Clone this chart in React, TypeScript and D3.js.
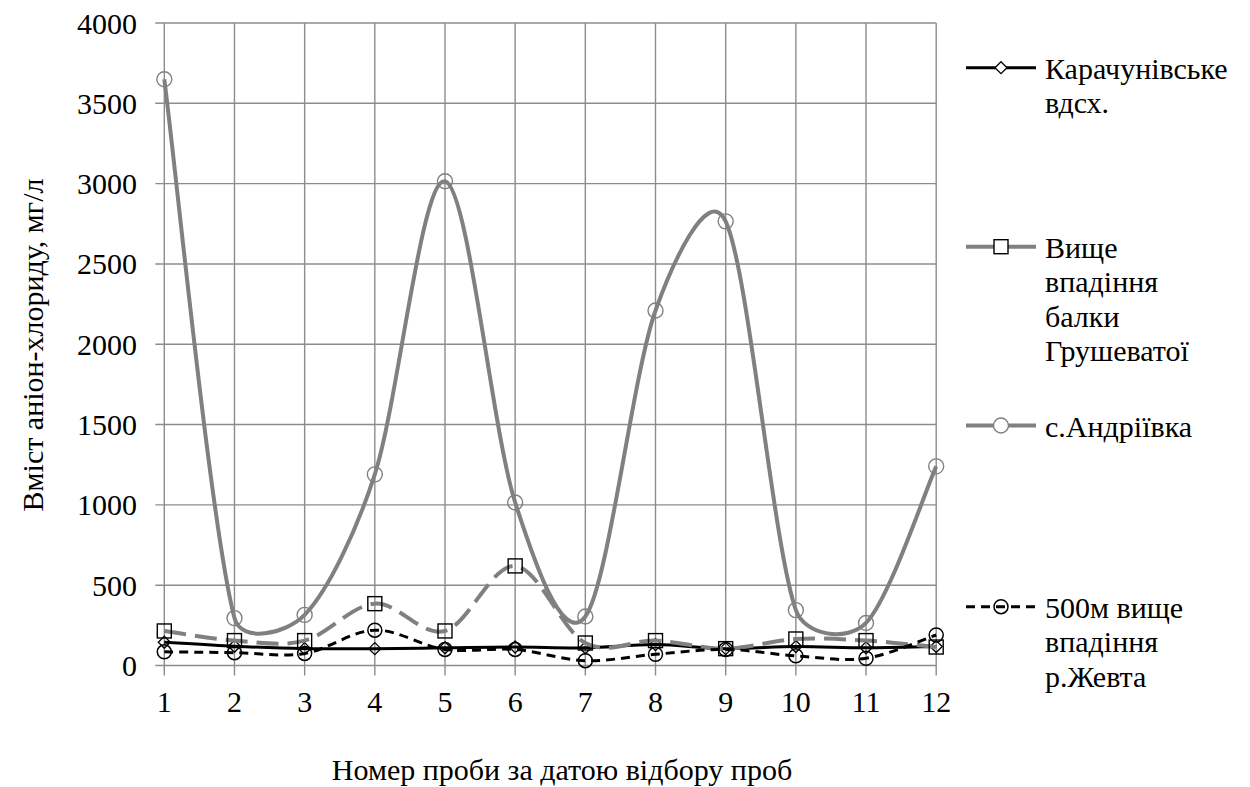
import React from 'react';
import * as d3 from 'd3';

// sample numbers 1..12
const samples = [1, 2, 3, 4, 5, 6, 7, 8, 9, 10, 11, 12];
const yTicks = [0, 500, 1000, 1500, 2000, 2500, 3000, 3500, 4000];

// chloride content, mg/l
const karachun = [145, 120, 105, 105, 110, 115, 110, 130, 105, 118, 110, 118];
const vyshche = [215, 155, 155, 385, 215, 620, 140, 155, 105, 165, 155, 115];
const andriivka = [3650, 295, 315, 1190, 3015, 1015, 305, 2210, 2765, 345, 265, 1240];
const zhevta = [85, 80, 75, 220, 100, 100, 30, 70, 100, 60, 45, 190];

const seriesNames = [
  ['Карачунівське', 'вдсх.'],
  ['Вище', 'впадіння', 'балки', 'Грушеватої'],
  ['с.Андріївка'],
  ['500м вище', 'впадіння', 'р.Жевта'],
];

const W = 1250;
const H = 787;
const FONT = 'Liberation Serif, DejaVu Serif, serif';
const GRID = '#8c8c8c';
const GREY = '#808080';

const x = d3.scalePoint<number>().domain(samples).range([164.3, 936.2]);
const y = d3.scaleLinear().domain([0, 4000]).range([665.5, 23]);

// smoothing roughly like Excel's: catmull-rom tangents, clipped to a share of the segment
function smoothPath(pts: [number, number][], k = 0.38) {
  const p = d3.path();
  p.moveTo(pts[0][0], pts[0][1]);
  for (let i = 0; i < pts.length - 1; i++) {
    const p0 = pts[i - 1] ?? pts[i];
    const p1 = pts[i];
    const p2 = pts[i + 1];
    const p3 = pts[i + 2] ?? pts[i + 1];
    const seg = Math.hypot(p2[0] - p1[0], p2[1] - p1[1]);
    const tan = (dx: number, dy: number) => {
      const l = Math.hypot(dx, dy) / 6;
      const s = l > seg * k ? (seg * k) / l : 1;
      return [(dx / 6) * s, (dy / 6) * s];
    };
    const a = tan(p2[0] - p0[0], p2[1] - p0[1]);
    const b = tan(p3[0] - p1[0], p3[1] - p1[1]);
    p.bezierCurveTo(p1[0] + a[0], p1[1] + a[1], p2[0] - b[0], p2[1] - b[1], p2[0], p2[1]);
  }
  return p.toString();
}

type Marker = 'diamond' | 'square' | 'circle' | 'circleBar';

const Mark = ({ kind, cx, cy, fill = 'none' }: { kind: Marker; cx: number; cy: number; fill?: string }) => {
  if (kind === 'diamond') {
    const r = 6;
    return (
      <path d={`M${cx},${cy - r}L${cx + r},${cy}L${cx},${cy + r}L${cx - r},${cy}Z`} fill={fill} stroke="#000" strokeWidth={1.3} />
    );
  }
  if (kind === 'square') {
    return <rect x={cx - 7} y={cy - 7} width={14} height={14} fill={fill} stroke="#000" strokeWidth={1.4} />;
  }
  if (kind === 'circle') {
    return <circle cx={cx} cy={cy} r={7.5} fill={fill} stroke={GREY} strokeWidth={1.4} />;
  }
  return <circle cx={cx} cy={cy} r={7} fill={fill} stroke="#000" strokeWidth={1.5} />;
};

const series = [
  { values: karachun, color: '#000', width: 3, dash: undefined, marker: 'diamond' as Marker },
  { values: vyshche, color: GREY, width: 4, dash: '22 9', marker: 'square' as Marker },
  { values: andriivka, color: GREY, width: 4, dash: undefined, marker: 'circle' as Marker },
  { values: zhevta, color: '#000', width: 3, dash: '9 6', marker: 'circleBar' as Marker },
];

const legendY = [67.7, 246.7, 425.5, 606.7];

export default function App() {
  const [x0, x1] = x.range();
  const [y0, y1] = y.range();
  return (
    <svg width={W} height={H} style={{ position: 'absolute', left: 0, top: 0, background: '#fff' }}>
      <g fontFamily={FONT} fill="#000">
        {/* grid */}
        {yTicks.map((t) => (
          <line key={'h' + t} x1={x0 - 9} x2={x1} y1={y(t)} y2={y(t)} stroke={GRID} strokeWidth={1.4} />
        ))}
        {samples.map((s) => (
          <line key={'v' + s} x1={x(s)} x2={x(s)} y1={y1} y2={y0 + 10} stroke={GRID} strokeWidth={1.4} />
        ))}

        {/* axis labels */}
        {yTicks.map((t) => (
          <text key={'yl' + t} x={137} y={y(t)} dy="0.35em" textAnchor="end" fontSize={30}>
            {t}
          </text>
        ))}
        {samples.map((s) => (
          <text key={'xl' + s} x={x(s)} y={712} textAnchor="middle" fontSize={30}>
            {s}
          </text>
        ))}
        <text x={562} y={780} textAnchor="middle" fontSize={30}>
          Номер проби за датою відбору проб
        </text>
        <text transform="translate(32,345) rotate(-90)" dy="0.35em" textAnchor="middle" fontSize={30}>
          Вміст аніон-хлориду, мг/л
        </text>

        {/* series */}
        {series.map((s, i) => {
          const pts = s.values.map((v, j) => [x(samples[j])!, y(v)] as [number, number]);
          return (
            <g key={'s' + i}>
              <path d={smoothPath(pts)} fill="none" stroke={s.color} strokeWidth={s.width} strokeDasharray={s.dash} />
              {pts.map((p, j) => (
                <Mark key={j} kind={s.marker} cx={p[0]} cy={p[1]} />
              ))}
            </g>
          );
        })}

        {/* legend */}
        {series.map((s, i) => {
          const ly = legendY[i];
          return (
            <g key={'lg' + i}>
              <line
                x1={966}
                x2={1036}
                y1={ly}
                y2={ly}
                stroke={s.color}
                strokeWidth={s.width}
                strokeDasharray={s.marker === 'circleBar' ? s.dash : undefined}
              />
              <Mark kind={s.marker} cx={1001} cy={ly} fill={s.marker === 'circleBar' ? 'none' : '#fff'} />
              <text x={1045} y={ly + 11} fontSize={30}>
                {seriesNames[i].map((line, k) => (
                  <tspan key={k} x={1045} dy={k === 0 ? 0 : 34.5}>
                    {line}
                  </tspan>
                ))}
              </text>
            </g>
          );
        })}
      </g>
    </svg>
  );
}
